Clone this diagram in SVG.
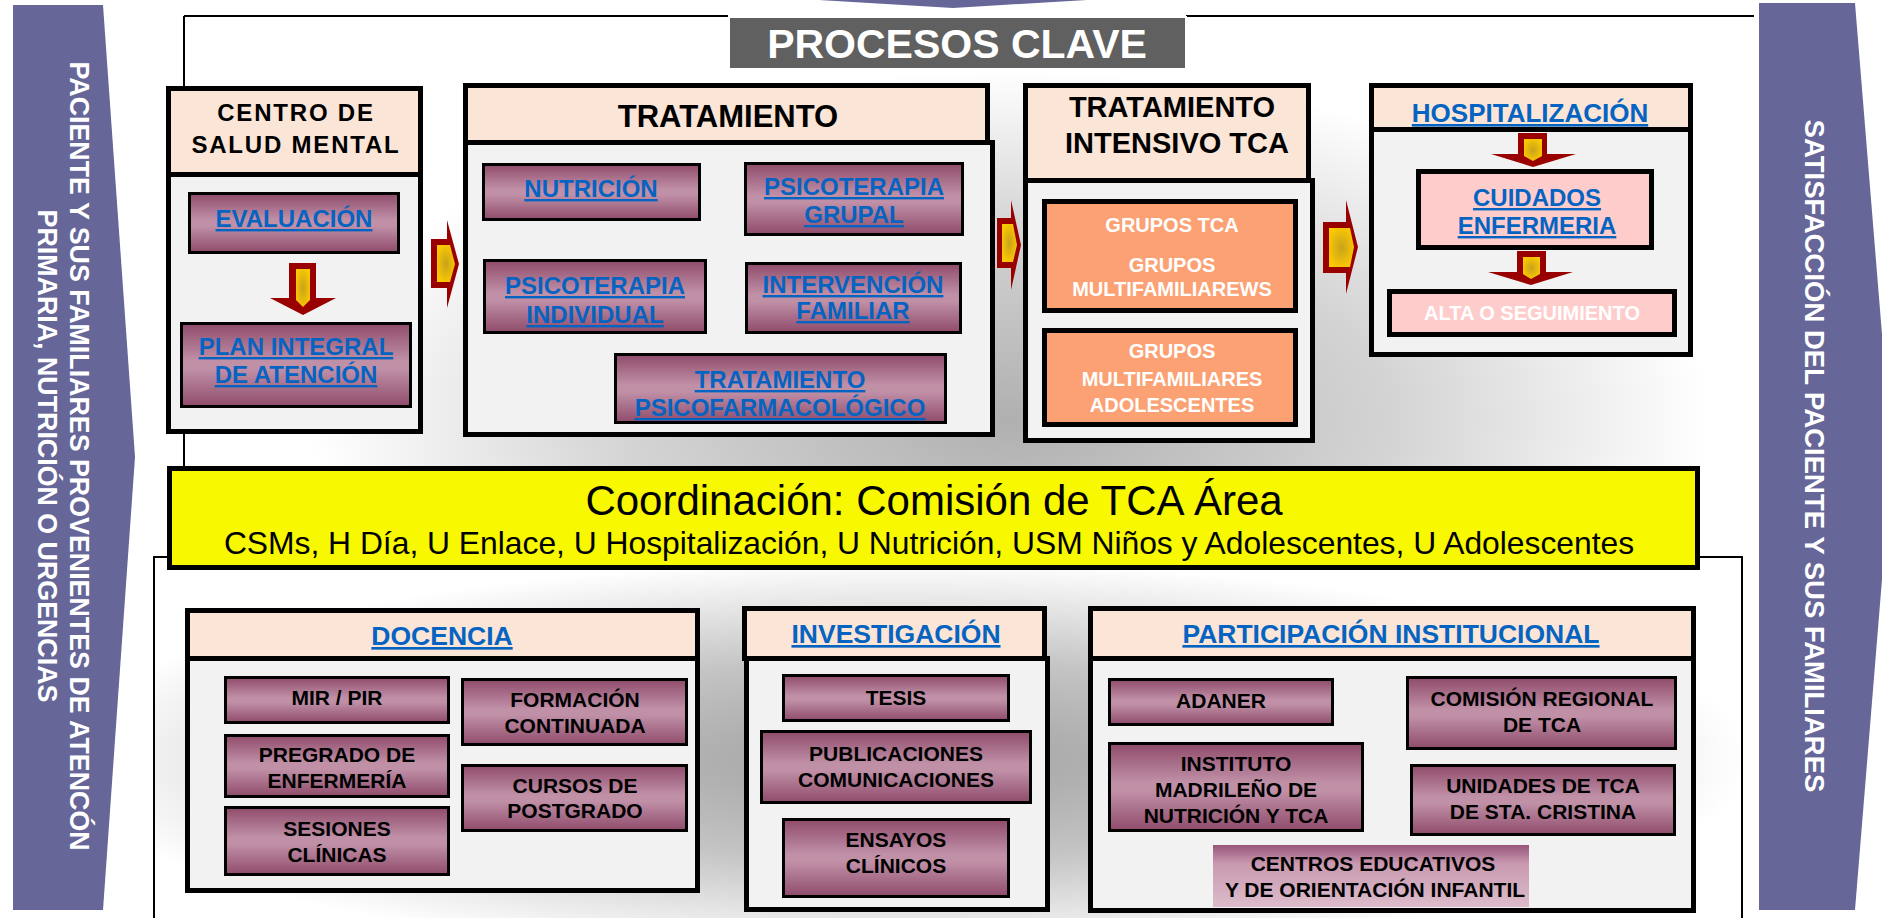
<svg xmlns="http://www.w3.org/2000/svg" width="1882" height="918" viewBox="0 0 1882 918">
<defs>
<style>
text{font-family:"Liberation Sans",Arial,sans-serif;font-weight:bold;text-anchor:middle}
.hdr{fill:#fbe5d6;stroke:#000;stroke-width:5}
.body{fill:#f2f2f2;stroke:#000;stroke-width:5}
.pbox{fill:url(#purp);stroke:#000;stroke-width:3}
.sbox{fill:#fba173;stroke:#000;stroke-width:5}
.kbox{fill:#ffcccc;stroke:#000;stroke-width:5}
.blue{fill:#0563c1;text-decoration:underline;font-size:24px}
.blk{fill:#000;font-size:21px}
.wht{fill:#fff;font-size:20px}
.hd{fill:#000;font-size:24px;letter-spacing:1.8px}
.band{fill:#666699}
.bt{fill:#fff;font-size:26.8px}
.frame{fill:none;stroke:#000;stroke-width:2}
.ared{fill:#990000}
.ayel{fill:url(#yel)}
</style>
<linearGradient id="purp" x1="0" y1="0" x2="0" y2="1">
<stop offset="0" stop-color="#8f4b6b"/>
<stop offset="0.45" stop-color="#c090a7"/>
<stop offset="0.55" stop-color="#c090a7"/>
<stop offset="1" stop-color="#8f4b6b"/>
</linearGradient>
<linearGradient id="purp2" x1="0" y1="0" x2="0" y2="1">
<stop offset="0" stop-color="#97557a"/>
<stop offset="0.3" stop-color="#c999b0"/>
<stop offset="1" stop-color="#dcbccb"/>
</linearGradient>
<radialGradient id="yel" cx="0.5" cy="0.5" r="0.6">
<stop offset="0" stop-color="#c9a21c"/>
<stop offset="1" stop-color="#ffcc00"/>
</radialGradient>
<radialGradient id="shTop" gradientUnits="userSpaceOnUse" cx="1010" cy="420" r="700" gradientTransform="translate(1010,420) scale(1,0.5) translate(-1010,-420)">
<stop offset="0" stop-color="#b0b0b0"/>
<stop offset="0.55" stop-color="#d4d4d4"/>
<stop offset="1" stop-color="#ffffff"/>
</radialGradient>
<radialGradient id="shBot" gradientUnits="userSpaceOnUse" cx="900" cy="760" r="850" gradientTransform="translate(900,760) scale(1,0.235) translate(-900,-760)">
<stop offset="0" stop-color="#a0a0a0"/>
<stop offset="0.5" stop-color="#c4c4c4"/>
<stop offset="1" stop-color="#ffffff"/>
</radialGradient>
</defs>
<rect width="1882" height="918" fill="#fff"/>
<g id="background">
<rect x="184" y="17" width="1575" height="450" fill="url(#shTop)"/>
<rect x="155" y="558" width="1586" height="360" fill="url(#shBot)"/>
<path class="frame" d="M184,16H728M1186,16H1754M184,16V467M154,918V557H168M1700,557H1742V918"/>
</g>
<g id="band-left">
<polygon class="band" points="13,5 103,5 135,457 103,910 13,910"/>
<text class="bt" transform="translate(70,456) rotate(90)">PACIENTE Y SUS FAMILIARES PROVENIENTES DE ATENCÓN</text>
<text class="bt" transform="translate(38,456) rotate(90)">PRIMARIA, NUTRICIÓN O URGENCIAS</text>
</g>
<g id="band-right">
<polygon class="band" points="1759,3 1855,3 1892,457 1855,910 1759,910"/>
<text class="bt" style="font-size:27.5px" transform="translate(1805,456) rotate(90)">SATISFACCIÓN DEL PACIENTE Y SUS FAMILIARES</text>
</g>
<g id="band-top">
<polygon class="band" points="819,0 1087,0 953,8"/>
</g>
<g id="procesos-clave">
<rect x="729" y="17" width="457" height="52" fill="#606060" stroke="#fff" stroke-width="2"/>
<text x="957" y="58" fill="#fff" style="font-size:41px">PROCESOS CLAVE</text>
</g>
<g id="centro-salud-mental">
<rect class="hdr" x="168.5" y="88.5" width="252" height="86"/>
<rect class="body" x="168.5" y="174.5" width="252" height="257"/>
<text class="hd" x="296" y="121">CENTRO DE</text>
<text class="hd" x="296" y="153">SALUD MENTAL</text>
</g>
<g id="evaluacion">
<rect class="pbox" x="189.5" y="193.5" width="209" height="59"/>
<text class="blue" x="294" y="227">EVALUACIÓN</text>
</g>
<g id="plan-integral">
<rect class="pbox" x="181.5" y="323.5" width="229" height="83"/>
<text class="blue" x="296" y="355">PLAN INTEGRAL</text>
<text class="blue" x="296" y="383">DE ATENCIÓN</text>
</g>
<g id="tratamiento">
<rect class="hdr" x="465.5" y="85.5" width="522" height="57"/>
<rect class="body" x="465.5" y="142.5" width="527" height="292"/>
<text x="728" y="127" style="font-size:31px">TRATAMIENTO</text>
</g>
<g id="nutricion">
<rect class="pbox" x="483.5" y="164.5" width="216" height="55"/>
<text class="blue" x="591" y="197">NUTRICIÓN</text>
</g>
<g id="psicoterapia-grupal">
<rect class="pbox" x="745.5" y="163.5" width="217" height="71"/>
<text class="blue" x="854" y="195">PSICOTERAPIA</text>
<text class="blue" x="854" y="223">GRUPAL</text>
</g>
<g id="psicoterapia-individual">
<rect class="pbox" x="484.5" y="260.5" width="221" height="72"/>
<text class="blue" x="595" y="294">PSICOTERAPIA</text>
<text class="blue" x="595" y="323">INDIVIDUAL</text>
</g>
<g id="intervencion-familiar">
<rect class="pbox" x="746.5" y="263.5" width="214" height="69"/>
<text class="blue" x="853" y="293">INTERVENCIÓN</text>
<text class="blue" x="853" y="319">FAMILIAR</text>
</g>
<g id="tratamiento-psicofarmacologico">
<rect class="pbox" x="615.5" y="354.5" width="330" height="68"/>
<text class="blue" x="780" y="388">TRATAMIENTO</text>
<text class="blue" x="780" y="416">PSICOFARMACOLÓGICO</text>
</g>
<g id="tratamiento-intensivo">
<rect class="hdr" x="1025.5" y="85.5" width="283" height="95"/>
<rect class="body" x="1025.5" y="180.5" width="287" height="260"/>
<text x="1172" y="117" style="font-size:29px">TRATAMIENTO</text>
<text x="1177" y="153" style="font-size:29px">INTENSIVO TCA</text>
</g>
<g id="grupos-tca">
<rect class="sbox" x="1044.5" y="201.5" width="251" height="109"/>
<text class="wht" x="1172" y="232">GRUPOS TCA</text>
<text class="wht" x="1172" y="272">GRUPOS</text>
<text class="wht" x="1172" y="296">MULTIFAMILIAREWS</text>
</g>
<g id="grupos-adolescentes">
<rect class="sbox" x="1044.5" y="330.5" width="251" height="94"/>
<text class="wht" x="1172" y="358">GRUPOS</text>
<text class="wht" x="1172" y="386">MULTIFAMILIARES</text>
<text class="wht" x="1172" y="412">ADOLESCENTES</text>
</g>
<g id="hospitalizacion">
<rect class="hdr" x="1371.5" y="85.5" width="319" height="44"/>
<rect class="body" x="1371.5" y="129.5" width="319" height="225"/>
<text class="blue" x="1530" y="122" style="font-size:26px">HOSPITALIZACIÓN</text>
</g>
<g id="cuidados-enfermeria">
<rect class="kbox" x="1418.5" y="171.5" width="233" height="76"/>
<text class="blue" x="1537" y="206">CUIDADOS</text>
<text class="blue" x="1537" y="234">ENFERMERIA</text>
</g>
<g id="alta-seguimiento">
<rect class="kbox" x="1389.5" y="291.5" width="285" height="43"/>
<text class="wht" x="1532" y="320">ALTA O SEGUIMIENTO</text>
</g>
<g id="coordinacion">
<rect x="169.5" y="468.5" width="1528" height="99" fill="#f8f800" stroke="#000" stroke-width="5"/>
<text x="934" y="515" style="font-weight:normal;font-size:42px">Coordinación: Comisión de TCA Área</text>
<text x="929" y="554" style="font-weight:normal;font-size:31.8px">CSMs, H Día, U Enlace, U Hospitalización, U Nutrición, USM Niños y Adolescentes, U Adolescentes</text>
</g>
<g id="docencia">
<rect class="hdr" x="187.5" y="610.5" width="510" height="48"/>
<rect class="body" x="187.5" y="658.5" width="510" height="232"/>
<text class="blue" x="442" y="645" style="font-size:26.5px">DOCENCIA</text>
</g>
<g id="mir-pir"><rect class="pbox" x="225.5" y="677.5" width="223" height="45"/><text class="blk" x="337" y="705">MIR / PIR</text></g>
<g id="pregrado"><rect class="pbox" x="225.5" y="735.5" width="223" height="61"/><text class="blk" x="337" y="762">PREGRADO DE</text><text class="blk" x="337" y="788">ENFERMERÍA</text></g>
<g id="sesiones"><rect class="pbox" x="225.5" y="807.5" width="223" height="67"/><text class="blk" x="337" y="836">SESIONES</text><text class="blk" x="337" y="862">CLÍNICAS</text></g>
<g id="formacion"><rect class="pbox" x="462.5" y="679.5" width="224" height="65"/><text class="blk" x="575" y="707">FORMACIÓN</text><text class="blk" x="575" y="733">CONTINUADA</text></g>
<g id="cursos"><rect class="pbox" x="462.5" y="765.5" width="224" height="65"/><text class="blk" x="575" y="793">CURSOS DE</text><text class="blk" x="575" y="818">POSTGRADO</text></g>
<g id="investigacion">
<rect class="hdr" x="744.5" y="608.5" width="300" height="50"/>
<rect class="body" x="746.5" y="658.5" width="301" height="251"/>
<text class="blue" x="896" y="643" style="font-size:26.5px">INVESTIGACIÓN</text>
</g>
<g id="tesis"><rect class="pbox" x="783.5" y="675.5" width="225" height="45"/><text class="blk" x="896" y="705">TESIS</text></g>
<g id="publicaciones"><rect class="pbox" x="761.5" y="731.5" width="269" height="71"/><text class="blk" x="896" y="761">PUBLICACIONES</text><text class="blk" x="896" y="787">COMUNICACIONES</text></g>
<g id="ensayos"><rect class="pbox" x="783.5" y="819.5" width="225" height="77"/><text class="blk" x="896" y="847">ENSAYOS</text><text class="blk" x="896" y="873">CLÍNICOS</text></g>
<g id="participacion">
<rect class="hdr" x="1090.5" y="608.5" width="603" height="50"/>
<rect class="body" x="1090.5" y="658.5" width="603" height="252"/>
<text class="blue" x="1391" y="643" style="font-size:26.5px">PARTICIPACIÓN INSTITUCIONAL</text>
</g>
<g id="adaner"><rect class="pbox" x="1109.5" y="679.5" width="223" height="45"/><text class="blk" x="1221" y="708">ADANER</text></g>
<g id="instituto"><rect class="pbox" x="1109.5" y="743.5" width="253" height="87"/><text class="blk" x="1236" y="771">INSTITUTO</text><text class="blk" x="1236" y="797">MADRILEÑO DE</text><text class="blk" x="1236" y="823">NUTRICIÓN Y TCA</text></g>
<g id="comision-regional"><rect class="pbox" x="1407.5" y="677.5" width="268" height="71"/><text class="blk" x="1542" y="706">COMISIÓN REGIONAL</text><text class="blk" x="1542" y="732">DE TCA</text></g>
<g id="unidades-tca"><rect class="pbox" x="1411.5" y="765.5" width="263" height="69"/><text class="blk" x="1543" y="793">UNIDADES DE TCA</text><text class="blk" x="1543" y="819">DE STA. CRISTINA</text></g>
<g id="centros-educativos"><rect x="1213" y="845" width="316" height="62" fill="url(#purp2)"/><text class="blk" x="1373" y="871">CENTROS EDUCATIVOS</text><text class="blk" x="1375" y="897">Y DE ORIENTACIÓN INFANTIL</text></g>
<g id="connectors">
<polygon class="ared" points="289,263 316,263 316,298 336,298 303,315 270,298 289,298"/>
<polygon class="ayel" points="296,269 310,269 310,300 303,307 296,300"/>
<polygon class="ared" points="431,239 447,239 447,220 459,264 447,308 447,288 431,288"/>
<polygon class="ayel" points="437,245 450,245 455,264 450,282 437,282"/>
<polygon class="ared" points="997,218 1011,218 1011,200 1021,245 1011,290 1011,268 997,268"/>
<polygon class="ayel" points="1002,224 1013,224 1017,245 1013,262 1002,262"/>
<polygon class="ared" points="1323,222 1346,222 1346,200 1358,247 1346,294 1346,273 1323,273"/>
<polygon class="ayel" points="1329,228 1350,228 1354,247 1350,267 1329,267"/>
<polygon class="ared" points="1518,133 1547,133 1547,154 1576,154 1533,167 1491,154 1518,154"/>
<polygon class="ayel" points="1524,139 1542,139 1542,156 1533,161 1524,156"/>
<polygon class="ared" points="1517,251 1546,251 1546,272 1573,272 1531,285 1488,272 1517,272"/>
<polygon class="ayel" points="1523,257 1540,257 1540,274 1531,279 1523,274"/>
</g>
</svg>
